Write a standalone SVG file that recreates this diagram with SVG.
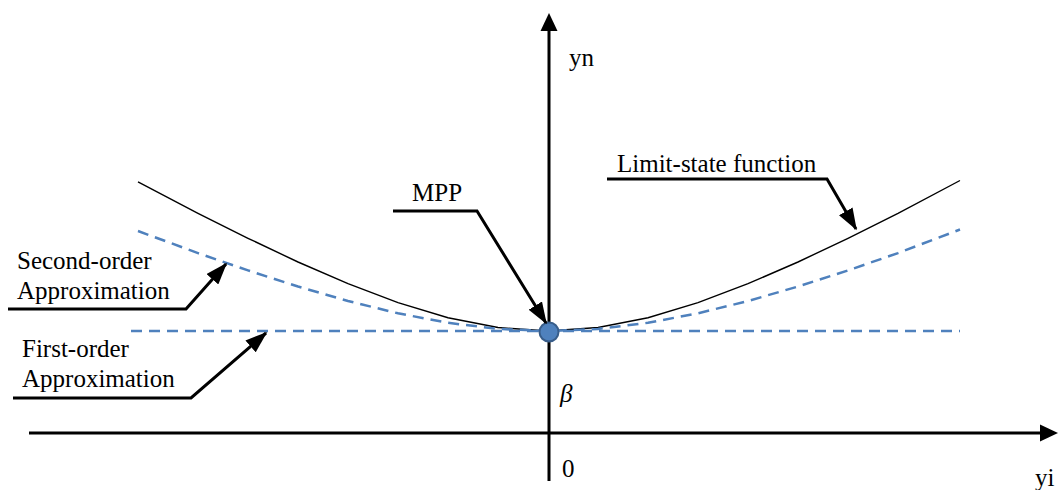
<svg xmlns="http://www.w3.org/2000/svg" width="1061" height="490" viewBox="0 0 1061 490">
<style>
  text { font-family: 'Liberation Serif', 'Times New Roman', Times, 'DejaVu Serif', serif; fill: #000; font-size: 25px; }
  .axis { stroke: #000; stroke-width: 3; fill: none; }
  .lead { stroke: #000; stroke-width: 3; fill: none; }
  .curve { stroke: #000; stroke-width: 1.4; fill: none; }
  .dash { stroke: #4f81bd; stroke-width: 2.5; fill: none; stroke-dasharray: 11 7; }
</style>
<defs>
  <marker id="ah" viewBox="0 0 14 10" refX="13" refY="5" markerWidth="22" markerHeight="16" markerUnits="userSpaceOnUse" orient="auto">
    <path d="M0,0 L14,5 L0,10 Z" fill="#000"/>
  </marker>
</defs>

<g id="axes">
  <line class="axis" x1="29" y1="433" x2="1044" y2="433"/>
  <path d="M1058,433 L1040,424.5 L1040,441.5 Z" fill="#000"/>
  <line class="axis" x1="549" y1="481" x2="549" y2="30"/>
  <path d="M549,13 L540.5,31 L557.5,31 Z" fill="#000"/>
</g>

<g id="curves">
  <polyline id="limit-state" class="curve" points="138,181.9 198,213.3 248,238.3 298,262 348,283.7 398,302.6 448,317.7 498,327.5 548,331 598,327.5 648,317.7 698,302.6 748,283.7 798,262 848,238.3 898,213.3 960,180.5"/>
  <polyline id="second-order" class="dash" points="138,231 198,253.1 248,270.4 298,286.5 348,301 398,313.3 448,322.8 498,328.9 548,331 598,328.9 648,322.8 698,313.3 748,301 798,286.5 848,270.4 898,253.1 960,229.5"/>
  <line id="first-order" class="dash" x1="131" y1="331" x2="960" y2="331"/>
</g>

<g id="mpp-point">
  <circle cx="549" cy="332" r="9.5" fill="#4f81bd" stroke="#385d8a" stroke-width="2"/>
</g>

<g id="connectors">
  <polyline class="lead" points="8,309 186,309 226,264" marker-end="url(#ah)"/>
  <polyline class="lead" points="13,398 191,398 266,333" marker-end="url(#ah)"/>
  <polyline class="lead" points="393,211 477,211 546,323" marker-end="url(#ah)"/>
  <polyline class="lead" points="607,179 827,179 856,229" marker-end="url(#ah)"/>
</g>

<g id="label-second">
  <text x="17" y="269">Second-order</text>
  <text x="17" y="299">Approximation</text>
</g>
<g id="label-first">
  <text x="22" y="357">First-order</text>
  <text x="22" y="387">Approximation</text>
</g>
<g id="label-mpp">
  <text x="412" y="201">MPP</text>
</g>
<g id="label-limit">
  <text x="617" y="172">Limit-state function</text>
</g>
<g id="axis-labels">
  <text x="569" y="66" font-size="26">yn</text>
  <text x="560" y="402" font-style="italic">β</text>
  <text x="562" y="477" font-size="26">0</text>
  <text x="1035" y="486" font-size="26">yi</text>
</g>
</svg>
